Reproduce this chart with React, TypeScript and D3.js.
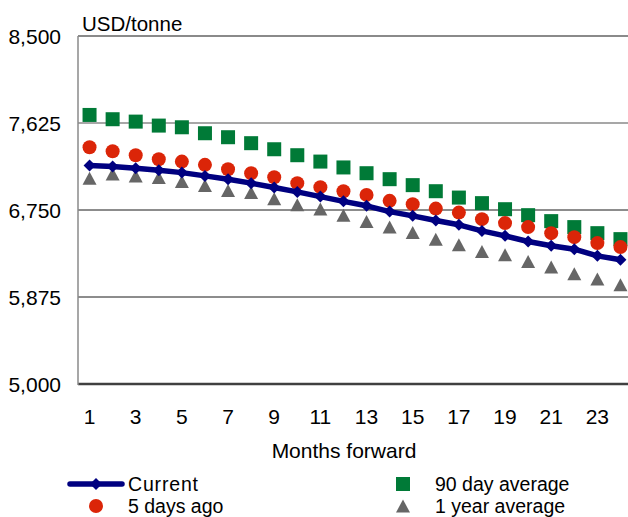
import React from "react";
import * as d3 from "d3";

const months = d3.range(1, 25);
const tickMonths = [1, 3, 5, 7, 9, 11, 13, 15, 17, 19, 21, 23];
const yTicks = [5000, 5875, 6750, 7625, 8500];

const current = [7197, 7187, 7170, 7150, 7126, 7093, 7060, 7020, 6976, 6932, 6885, 6837, 6792, 6734, 6691, 6644, 6601, 6540, 6490, 6433, 6390, 6356, 6289, 6249];
const fiveDaysAgo = [7381, 7341, 7301, 7261, 7237, 7204, 7160, 7120, 7080, 7020, 6980, 6939, 6902, 6842, 6809, 6764, 6724, 6658, 6618, 6578, 6517, 6477, 6417, 6377];
const ninetyDayAvg = [7706, 7663, 7639, 7599, 7582, 7522, 7482, 7422, 7361, 7301, 7237, 7178, 7120, 7060, 7000, 6939, 6875, 6819, 6758, 6698, 6638, 6578, 6517, 6457];
const oneYearAvg = [7070, 7113, 7093, 7076, 7036, 6996, 6945, 6925, 6862, 6802, 6761, 6696, 6634, 6578, 6523, 6457, 6400, 6332, 6299, 6232, 6176, 6108, 6055, 5998];

const W = 628;
const H = 517;
const left = 78;
const top = 36;
const bottom = 384;
const right = 632;

const FONT = "'Liberation Sans', Arial, sans-serif";
const FS = 21;
const LFS = 19.5;
const BLUE = "#000080";
const RED = "#db2508";
const GREEN = "#007a37";
const GRAY = "#666666";

function diamond(cx: number, cy: number, r: number) {
  return `M${cx},${cy - r}L${cx + r},${cy}L${cx},${cy + r}L${cx - r},${cy}Z`;
}
function triangle(cx: number, cy: number, w: number, h: number) {
  return `M${cx},${cy - h / 2}L${cx + w / 2},${cy + h / 2}L${cx - w / 2},${cy + h / 2}Z`;
}

export default function App() {
  const x = d3.scaleBand<number>().domain(months).range([left, right]).padding(0);
  const y = d3.scaleLinear().domain([5000, 8500]).range([bottom, top]);
  const cx = (m: number) => (x(m) as number) + x.bandwidth() / 2;

  const line = d3
    .line<number>()
    .x((_, i) => cx(months[i]))
    .y((d) => y(d));

  const gridStyle = (v: number) => {
    if (v === 8500) return { stroke: "#8a8a8a", w: 2 };
    if (v === 7625) return { stroke: "#8a8a8a", w: 1.5 };
    if (v === 5000) return { stroke: "#404040", w: 2.5 };
    return { stroke: "#1a1a1a", w: 1 };
  };

  const row1 = 484;
  const row2 = 506;

  return (
    <svg
      width={W}
      height={H}
      style={{ position: "absolute", left: 0, top: 0, background: "#fff" }}
      fontFamily={FONT}
    >
      <rect x={0} y={0} width={W} height={H} fill="#fff" />
      {yTicks.map((v) => {
        const g = gridStyle(v);
        return (
          <g key={v}>
            <line x1={left} x2={W} y1={y(v)} y2={y(v)} stroke={g.stroke} strokeWidth={g.w} />
            <text x={61} y={y(v)} dy="0.36em" textAnchor="end" fontSize={FS} fill="#000">
              {d3.format(",")(v)}
            </text>
          </g>
        );
      })}
      <line x1={left} x2={left} y1={top} y2={bottom + 1} stroke="#8a8a8a" strokeWidth={1.5} />
      <text x={82} y={30.5} fontSize={20.5} fill="#000">USD/tonne</text>

      {tickMonths.map((m) => (
        <text key={m} x={cx(m)} y={416} dy="0.36em" textAnchor="middle" fontSize={FS} fill="#000">
          {m}
        </text>
      ))}
      <text x={344} y={450} dy="0.36em" textAnchor="middle" fontSize={FS} fill="#000">Months forward</text>

      {ninetyDayAvg.map((v, i) => (
        <rect key={"g" + i} x={cx(months[i]) - 7} y={y(v) - 7} width={14} height={14} fill={GREEN} />
      ))}
      {oneYearAvg.map((v, i) => (
        <path key={"t" + i} d={triangle(cx(months[i]), y(v), 14, 13)} fill={GRAY} />
      ))}
      {fiveDaysAgo.map((v, i) => (
        <circle key={"r" + i} cx={cx(months[i])} cy={y(v)} r={7} fill={RED} />
      ))}
      <path d={line(current) || ""} fill="none" stroke={BLUE} strokeWidth={5.5} strokeLinejoin="round" />
      {current.map((v, i) => (
        <path key={"b" + i} d={diamond(cx(months[i]), y(v), 6)} fill={BLUE} />
      ))}

      {/* Legend */}
      <line x1={70} x2={122} y1={row1} y2={row1} stroke={BLUE} strokeWidth={5.5} strokeLinecap="round" />
      <path d={diamond(96, row1, 6)} fill={BLUE} />
      <text x={128} y={row1} dy="0.36em" fontSize={LFS} textLength={70} fill="#000">Current</text>
      <circle cx={96} cy={row2} r={7} fill={RED} />
      <text x={128} y={row2} dy="0.36em" fontSize={LFS} fill="#000">5 days ago</text>
      <rect x={396} y={row1 - 7} width={14} height={14} fill={GREEN} />
      <text x={435} y={row1} dy="0.36em" fontSize={LFS} fill="#000">90 day average</text>
      <path d={triangle(403, row2, 14, 13)} fill={GRAY} />
      <text x={435} y={row2} dy="0.36em" fontSize={LFS} fill="#000">1 year average</text>
    </svg>
  );
}
